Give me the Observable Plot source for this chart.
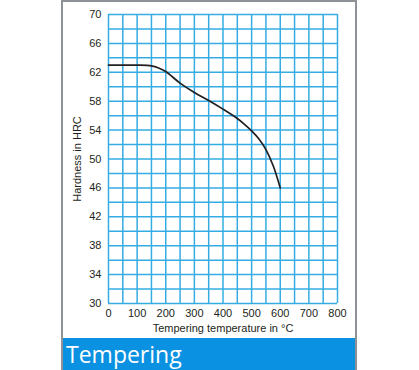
<!DOCTYPE html>
<html>
<head>
<meta charset="utf-8">
<script src="https://cdn.jsdelivr.net/npm/d3@7"></script>
<script src="https://cdn.jsdelivr.net/npm/@observablehq/plot@0.6"></script>
<style>
  html, body { margin: 0; padding: 0; background: #fff; width: 419px; height: 370px; overflow: hidden; }
  #frame { position: absolute; left: 61px; top: 0; width: 296px; height: 372px; box-sizing: border-box;
           border: 2px solid #8e9297; border-bottom: none; background: #fff; }
  #banner { position: absolute; left: 0; top: 336px; width: 292px; height: 36px; background: #0b91e2;
            color: #fff; font-family: "Open Sans", sans-serif; font-size: 23px; line-height: 32px; padding-left: 3px; box-sizing: border-box; }
  svg { display: block; }
</style>
</head>
<body>
<div id="frame"><div id="chart"></div><div id="banner">Tempering</div></div>
<script>
const temperature = [0, 50, 100, 150, 175, 200, 250, 300, 350, 400, 450, 475, 500, 525, 550, 575, 600];
const hardness    = [63, 63, 63, 62.9, 62.6, 62.1, 60.5, 59.2, 58.1, 56.9, 55.6, 54.8, 53.9, 52.8, 51.3, 49.1, 46];
const xTicks = [0, 100, 200, 300, 400, 500, 600, 700, 800];
const yTicks = [30, 34, 38, 42, 46, 50, 54, 58, 62, 66, 70];
const xGrid = d3.range(0, 801, 50);
const yGrid = d3.range(30, 71, 2);

const data = temperature.map((t, i) => ({t, h: hardness[i]}));
const gridColor = "#35ace3";

const chart = Plot.plot({
  width: 292,
  height: 336,
  marginLeft: 45,
  marginRight: 18,
  marginTop: 12,
  marginBottom: 35,
  style: {fontFamily: "'Liberation Sans', Arial, sans-serif", fontSize: "11px", color: "#231f20", background: "#fff"},
  x: {domain: [0, 800]},
  y: {domain: [30, 70]},
  marks: [
    Plot.gridX(xGrid, {stroke: gridColor, strokeOpacity: 1, strokeWidth: 1.5}),
    Plot.gridY(yGrid, {stroke: gridColor, strokeOpacity: 1, strokeWidth: 1.5}),
    Plot.axisX(xTicks, {tickSize: 0, tickPadding: 6, label: "Tempering temperature in °C", labelAnchor: "center", labelArrow: "none", labelOffset: 28, fill: "#231f20"}),
    Plot.axisY(yTicks, {tickSize: 0, tickPadding: 7, label: "Hardness in HRC", labelAnchor: "center", labelArrow: "none", labelOffset: 35, fill: "#231f20"}),
    Plot.line(data, {x: "t", y: "h", curve: "catmull-rom", stroke: "#231f20", strokeWidth: 1.7})
  ]
});
document.getElementById("chart").appendChild(chart);
</script>
</body>
</html>
